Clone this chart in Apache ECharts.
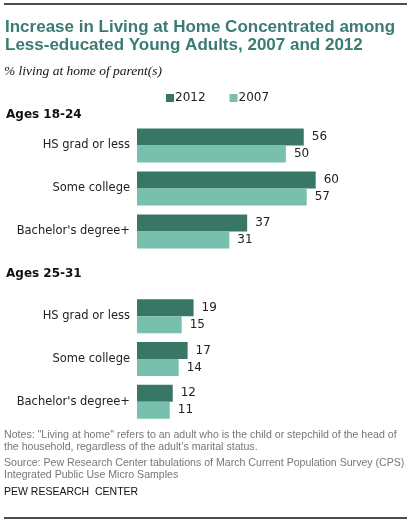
<!DOCTYPE html>
<html lang="en">
<head>
    <meta charset="UTF-8">
    <title>Living at home</title>
    <script src="https://cdn.jsdelivr.net/npm/echarts@6/dist/echarts.min.js"></script>
    <style>
        html, body { margin: 0; padding: 0; background: #fff; }
    </style>
</head>
<body>
<div id="main" style="width: 411px;height:521px;"></div>
<script type="text/javascript">
    // data
    var categories = ['HS grad or less', 'Some college', "Bachelor's degree+"];
    var young2012 = [56, 60, 37];
    var young2007 = [50, 57, 31];
    var older2012 = [19, 17, 12];
    var older2007 = [15, 14, 11];
    var seriesNames = ['2012', '2007'];

    var dark = '#387766';
    var light = '#78bfad';
    var font = 'DejaVu Sans';

    var myChart = echarts.init(document.getElementById('main'));

    function yAxisFor(i) {
        return {
            type: 'category',
            gridIndex: i,
            data: categories,
            inverse: true,
            axisLine: { show: false },
            axisTick: { show: false },
            axisLabel: { color: '#222', fontSize: 11.5, fontFamily: font, margin: 7 }
        };
    }
    function xAxisFor(i) {
        return { type: 'value', gridIndex: i, min: 0, max: 90, show: false };
    }
    function barSeries(name, idx, values, color) {
        return {
            type: 'bar',
            name: name,
            xAxisIndex: idx,
            yAxisIndex: idx,
            data: values,
            barWidth: 17,
            barGap: '0%',
            itemStyle: { color: color },
            label: {
                show: true,
                position: 'right',
                distance: 8,
                color: '#222',
                fontSize: 12,
                fontFamily: font
            },
            emphasis: { disabled: true }
        };
    }

    var option = {
        animation: false,
        title: [
            {
                text: 'Increase in Living at Home Concentrated among\nLess-educated Young Adults, 2007 and 2012',
                left: 5, top: 18, padding: 0,
                textStyle: { color: '#3a7c72', fontSize: 17, fontWeight: 'bold', fontFamily: 'Liberation Sans', lineHeight: 18 }
            },
            {
                text: '% living at home of parent(s)',
                left: 4, top: 64, padding: 0,
                textStyle: { color: '#111', fontSize: 13.5, fontStyle: 'italic', fontWeight: 'normal', fontFamily: 'Liberation Serif' }
            },
            {
                text: 'Ages 18-24',
                left: 6, top: 109, padding: 0,
                textStyle: { color: '#111', fontSize: 12, fontWeight: 'bold', fontFamily: font }
            },
            {
                text: 'Ages 25-31',
                left: 6, top: 268, padding: 0,
                textStyle: { color: '#111', fontSize: 12, fontWeight: 'bold', fontFamily: font }
            },
            {
                text: 'Notes: "Living at home" refers to an adult who is the child or stepchild of the head of\nthe household, regardless of the adult\u2019s marital status.',
                left: 4, top: 429, padding: 0,
                textStyle: { color: '#777', fontSize: 10.6, fontWeight: 'normal', fontFamily: 'Liberation Sans', lineHeight: 12 }
            },
            {
                text: 'Source: Pew Research Center tabulations of March Current Population Survey (CPS)\nIntegrated Public Use Micro Samples',
                left: 4, top: 457, padding: 0,
                textStyle: { color: '#777', fontSize: 10.6, fontWeight: 'normal', fontFamily: 'Liberation Sans', lineHeight: 12 }
            },
            {
                text: 'PEW RESEARCH  CENTER',
                left: 4, top: 487, padding: 0,
                textStyle: { color: '#111', fontSize: 10.5, fontWeight: 'normal', fontFamily: 'Liberation Sans' }
            }
        ],
        legend: {
            data: seriesNames,
            left: 166, top: 92, padding: 0,
            icon: 'rect',
            itemWidth: 8, itemHeight: 8,
            itemGap: 24,
            selectedMode: false,
            textStyle: { color: '#222', fontSize: 12, fontFamily: font, padding: [0, 0, 0, -4] }
        },
        grid: [
            { left: 137, top: 124, width: 268, height: 129 },
            { left: 137, top: 295, width: 268, height: 128 }
        ],
        xAxis: [xAxisFor(0), xAxisFor(1)],
        yAxis: [yAxisFor(0), yAxisFor(1)],
        series: [
            barSeries(seriesNames[0], 0, young2012, dark),
            barSeries(seriesNames[1], 0, young2007, light),
            barSeries(seriesNames[0], 1, older2012, dark),
            barSeries(seriesNames[1], 1, older2007, light)
        ],
        graphic: [
            { type: 'line', shape: { x1: 4, y1: 4, x2: 407, y2: 4 }, style: { stroke: '#111', lineWidth: 1.5 } },
            { type: 'line', shape: { x1: 4, y1: 518, x2: 407, y2: 518 }, style: { stroke: '#111', lineWidth: 1.5 } }
        ]
    };

    myChart.setOption(option);
</script>
</body>
</html>
